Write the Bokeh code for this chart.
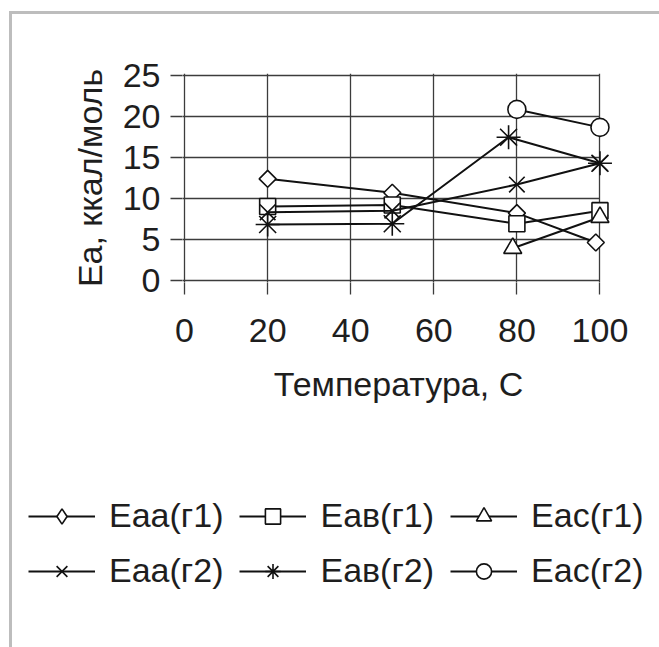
import math
from bokeh.plotting import figure
from bokeh.layouts import column
from bokeh.models import Range1d, FixedTicker, Legend, LegendItem
from bokeh.embed import file_html
from bokeh.resources import INLINE

# ---- data ----
x_ticks = [0, 20, 40, 60, 80, 100]
y_ticks = [0, 5, 10, 15, 20, 25]

eaa_g1_x = [20, 50, 80, 99]
eaa_g1_y = [12.4, 10.7, 8.2, 4.6]

eav_g1_x = [20, 50, 80, 100]
eav_g1_y = [9.0, 9.2, 6.9, 8.5]

eac_g1_x = [79, 100]
eac_g1_y = [3.9, 7.7]

eaa_g2_x = [20, 50, 80, 100]
eaa_g2_y = [8.3, 8.5, 11.7, 14.3]

eav_g2_x = [20, 50, 78, 100]
eav_g2_y = [6.8, 6.9, 17.5, 14.3]

eac_g2_x = [80, 100]
eac_g2_y = [20.9, 18.7]

labels = ["Eaa(г1)", "Eaв(г1)", "Eac(г1)", "Eaa(г2)", "Eaв(г2)", "Eac(г2)"]

FONT = "Liberation Sans"
FS = "34px"
TXT = "#1e1e1e"
GRID = "#3c3c3c"
INK = "#111111"

OFF_X, OFF_Y = 12, 14          # content offset inside the grey frame
W = 659 - OFF_X
H1 = 470 - OFF_Y               # chart part
H2 = 647 - 470                 # legend part

p = figure(width=W, height=H1, output_backend="svg", toolbar_location=None,
           x_range=Range1d(-0.5, 103.5), y_range=Range1d(-0.3, 25.3),
           min_border_left=182 - OFF_X, min_border_right=45,
           min_border_top=73 - OFF_Y, min_border_bottom=H1 - (282 - OFF_Y))
p.outline_line_color = None
p.border_fill_color = "white"

for ax in (p.xaxis[0], p.yaxis[0]):
    ax.axis_line_color = None
    ax.major_tick_in = 0
    ax.major_tick_out = 12
    ax.major_tick_line_color = GRID
    ax.major_tick_line_width = 1.3
    ax.minor_tick_line_color = None
    ax.major_label_text_font = FONT
    ax.major_label_text_font_size = FS
    ax.major_label_text_color = TXT
    ax.axis_label_text_font = FONT
    ax.axis_label_text_font_size = FS
    ax.axis_label_text_font_style = "normal"
    ax.axis_label_text_color = TXT

p.xaxis.ticker = FixedTicker(ticks=x_ticks)
p.yaxis.ticker = FixedTicker(ticks=y_ticks)
p.xaxis.axis_label = "Температура, С"
p.yaxis.axis_label = "Ea, ккал/моль"
p.xaxis.major_label_standoff = 24
p.xaxis.axis_label_standoff = 20
p.yaxis.major_label_standoff = 10
p.yaxis.axis_label_standoff = 11

p.grid.grid_line_color = GRID
p.grid.grid_line_width = 1.3
p.ygrid.cross_bounds = (-0.5, 100)

series = [
    (eaa_g1_x, eaa_g1_y, "square", 12, math.pi / 4),
    (eav_g1_x, eav_g1_y, "square", 16, 0),
    (eac_g1_x, eac_g1_y, "triangle", 18, 0),
    (eaa_g2_x, eaa_g2_y, "x", 22, 0),
    (eav_g2_x, eav_g2_y, "asterisk", 24, 0),
    (eac_g2_x, eac_g2_y, "circle", 18, 0),
]

for xs, ys, mk, sz, ang in series:
    p.line(xs, ys, line_color=INK, line_width=2)
    p.scatter(xs, ys, marker=mk, size=sz, angle=ang, line_color=INK,
              line_width=1.6, fill_color="white")

# legend panel: same series, view range set away from the data so only
# the legend is seen
q = figure(width=W, height=H2, output_backend="svg", toolbar_location=None,
           x_range=Range1d(1000, 1001), y_range=Range1d(1000, 1001),
           x_axis_type=None, y_axis_type=None,
           min_border=0, min_border_left=0, min_border_right=0,
           min_border_top=0, min_border_bottom=0)
q.outline_line_color = None
q.grid.visible = False
q.border_fill_color = "white"
for fig in (p, q):
    if "frame_align" in fig.properties():
        fig.frame_align = False

legend_markers = ["diamond", "square", "triangle", "x", "asterisk", "circle"]
items = []
for (xs, ys, mk, sz, ang), lmk, lab in zip(series, legend_markers, labels):
    lr = q.line(xs, ys, line_color=INK, line_width=2)
    sr = q.scatter(xs, ys, marker=lmk, size=sz, line_color=INK,
                   line_width=1.6, fill_color="white")
    items.append(LegendItem(label=lab, renderers=[lr, sr]))

legend = Legend(items=items, orientation="horizontal", ncols=3,
                location=(28 - OFF_X, 57),
                label_text_font=FONT, label_text_font_size=FS,
                label_text_color=TXT,
                glyph_width=67, glyph_height=38, label_standoff=14,
                spacing=16, padding=0, margin=0,
                border_line_color=None, background_fill_alpha=0)
q.add_layout(legend, "center")

layout = column(p, q, spacing=0, margin=(OFF_Y - 3, 0, 0, OFF_X - 3),
                styles={"border-top": "3px solid #bdbdbd",
                        "border-left": "3px solid #bdbdbd"})

open("out.html", "w").write(file_html(layout, INLINE))
